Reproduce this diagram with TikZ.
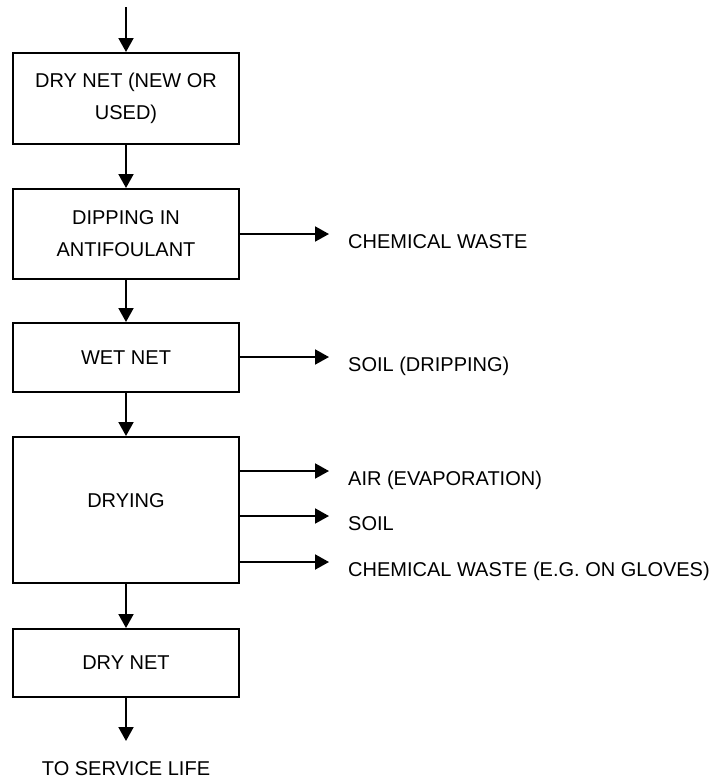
\documentclass[tikz,border=0pt]{standalone}
\usepackage{fontspec}
\setmainfont{Liberation Sans}
\usetikzlibrary{arrows.meta}
\begin{document}
\begin{tikzpicture}[x=1pt,y=-1pt,
  every node/.style={font=\fontsize{20pt}{32pt}\selectfont},
  boxnode/.style={draw,line width=2pt,minimum width=226pt,inner sep=0pt,align=center},
  flow/.style={line width=2pt,-{Triangle[length=14pt,width=15pt]}},
  lbl/.style={anchor=base west,inner sep=0pt}]
\useasboundingbox (0,0) rectangle (711,780);
\coordinate (start) at (126,7);
\node[boxnode,minimum height=91pt] (b1) at (126,98.5) {DRY NET (NEW OR\\USED)};
\node[boxnode,minimum height=90pt] (b2) at (126,234) {DIPPING IN\\ANTIFOULANT};
\node[boxnode,minimum height=69pt] (b3) at (126,357.5) {WET NET};
\node[boxnode,minimum height=146pt,text height=14.3pt,text depth=19pt] (b4) at (126,510) {DRYING};
\node[boxnode,minimum height=68pt] (b5) at (126,663) {DRY NET};
\coordinate (end) at (126,741);
\node[anchor=base,inner sep=0pt] (svc) at (126,775) {TO SERVICE LIFE};

\draw[flow] (start) -- (b1.north);
\draw[flow] (b1.south) -- (b2.north);
\draw[flow] (b2.south) -- (b3.north);
\draw[flow] (b3.south) -- (b4.north);
\draw[flow] (b4.south) -- (b5.north);
\draw[flow] (b5.south) -- (end);

\coordinate (t2) at (329,234);
\coordinate (t3) at (329,357);
\coordinate (t4a) at (329,471);
\coordinate (t4b) at (329,516);
\coordinate (t4c) at (329,562);
\draw[flow] (b2.east |- t2) -- (t2);
\draw[flow] (b3.east |- t3) -- (t3);
\draw[flow] (b4.east |- t4a) -- (t4a);
\draw[flow] (b4.east |- t4b) -- (t4b);
\draw[flow] (b4.east |- t4c) -- (t4c);

\node[lbl] (l2) at (348,248) {CHEMICAL WASTE};
\node[lbl] (l3) at (348,371) {SOIL (DRIPPING)};
\node[lbl] (l4a) at (348,485) {AIR (EVAPORATION)};
\node[lbl] (l4b) at (348,530) {SOIL};
\node[lbl] (l4c) at (348,576) {CHEMICAL WASTE (E.G. ON GLOVES)};
\end{tikzpicture}
\end{document}
